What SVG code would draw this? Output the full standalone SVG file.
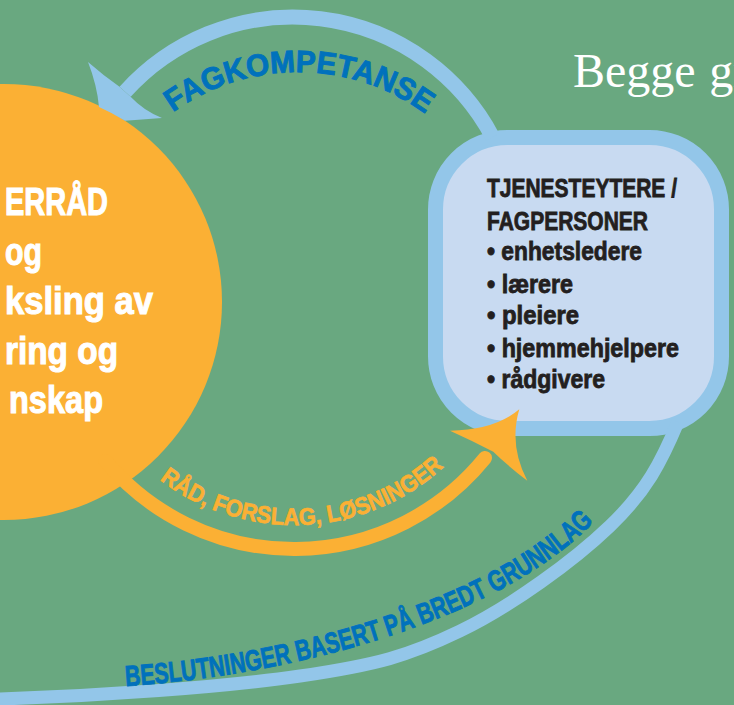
<svg xmlns="http://www.w3.org/2000/svg" width="734" height="705" viewBox="0 0 734 705">
<defs>
<style>
.lbl{font-family:"Liberation Sans Narrow","Liberation Sans",Arial,sans-serif;font-weight:bold}
.ctext{fill:#FFFFFF;stroke:#FFFFFF;stroke-width:1.1px;font-size:39px}
.btext{fill:#231F20;stroke:#231F20;stroke-width:0.8px;font-size:25px}
.blue{fill:#0071BC;stroke:#0071BC;stroke-width:0.9px}
.orange{fill:#FBB034;stroke:#FBB034;stroke-width:0.7px}
.lb{fill:none;stroke:#93C6E9}
.serif{font-family:"Liberation Serif","Times New Roman",serif;fill:#FFFFFF}
</style>
<path id="pFag" d="M96 213.5 A215 215 0 0 1 500 213.5"/>
<path id="pRad" d="M101.7 414 A222 222 0 0 0 486.3 414"/>
<path id="pBes" d="M110 687 C260 680 500 630 605 510"/>
</defs>
<rect width="734" height="705" fill="#69A880"/>

<g id="node-circle">
<circle cx="4" cy="302" r="218" fill="#FBB034"/>
<text class="lbl ctext" x="5" y="215" textLength="103" lengthAdjust="spacingAndGlyphs">ERRÅD</text>
<text class="lbl ctext" x="5" y="265" textLength="37" lengthAdjust="spacingAndGlyphs">og</text>
<text class="lbl ctext" x="5" y="314" textLength="148" lengthAdjust="spacingAndGlyphs">ksling av</text>
<text class="lbl ctext" x="5" y="364" textLength="113" lengthAdjust="spacingAndGlyphs">ring og</text>
<text class="lbl ctext" x="9" y="413" textLength="94" lengthAdjust="spacingAndGlyphs">nskap</text>
</g>

<g id="node-box">
<rect x="435.5" y="137.5" width="286" height="291" rx="72" fill="#C8DAF1" stroke="#93C6E9" stroke-width="15"/>
<text class="lbl btext" x="487" y="197" textLength="190" lengthAdjust="spacingAndGlyphs">TJENESTEYTERE /</text>
<text class="lbl btext" x="487" y="230" textLength="161" lengthAdjust="spacingAndGlyphs">FAGPERSONER</text>
<text class="lbl btext" x="487" y="260" textLength="155" lengthAdjust="spacingAndGlyphs">• enhetsledere</text>
<text class="lbl btext" x="487" y="293" textLength="86" lengthAdjust="spacingAndGlyphs">• lærere</text>
<text class="lbl btext" x="487" y="324" textLength="92" lengthAdjust="spacingAndGlyphs">• pleiere</text>
<text class="lbl btext" x="487" y="357" textLength="192" lengthAdjust="spacingAndGlyphs">• hjemmehjelpere</text>
<text class="lbl btext" x="487" y="388" textLength="118" lengthAdjust="spacingAndGlyphs">• rådgivere</text>
</g>

<g id="heading">
<text class="serif" x="573" y="87" font-size="48" word-spacing="1.5">Begge gr</text>
</g>

<g id="connectors">
<path class="lb" stroke-width="15" d="M125.1 91.8 A226 226 0 0 1 492.5 136.9"/>
<path fill="#93C6E9" d="M88 62 Q104 76 119.5 86.8 L130.6 96.8 Q144 111 162 118 L125 120.7 A218 218 0 0 0 99 107 Q97 85 88 62 Z"/>
<text class="lbl blue" font-size="31"><textPath href="#pFag" startOffset="129" textLength="270" lengthAdjust="spacingAndGlyphs">FAGKOMPETANSE</textPath></text>

<path class="lb" stroke-width="13" d="M-20 700 L0 699 C100 695.7 223.3 687.3 300 676 C376.7 664.7 408.3 656 460 631 C511.7 606 573.7 560.8 610 526 C646.3 491.2 661.3 462 678 422"/>
<text class="lbl blue" font-size="29"><textPath href="#pBes" startOffset="16" textLength="505" lengthAdjust="spacingAndGlyphs">BESLUTNINGER BASERT PÅ BREDT GRUNNLAG</textPath></text>

<path fill="none" stroke="#FBB034" stroke-width="14" stroke-linecap="round" d="M105.6 461.1 A246 246 0 0 0 485 458"/>
<path fill="#FBB034" d="M450 430.7 Q495 430 519.3 409.3 Q508.7 445 527.3 480.7 Q507.7 465.8 493.3 451.7 Q472.4 440.8 450 430.7 Z"/>
<text class="lbl orange" font-size="24"><textPath href="#pRad" startOffset="88" textLength="309" lengthAdjust="spacingAndGlyphs">RÅD, FORSLAG, LØSNINGER</textPath></text>
</g>
</svg>
